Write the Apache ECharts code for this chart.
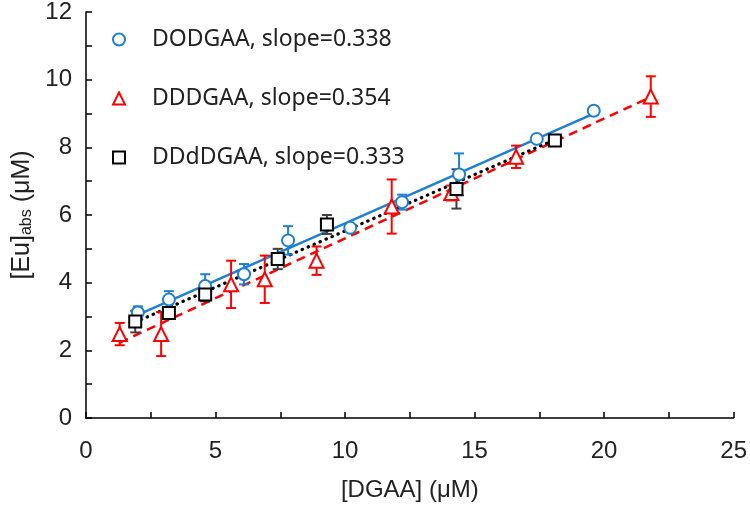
<!DOCTYPE html>
<html>
<head>
<meta charset="utf-8">
<script src="https://cdn.jsdelivr.net/npm/echarts@6/dist/echarts.min.js"></script>
<style>
  html, body { margin: 0; padding: 0; background: #fff; }
  #chart { width: 750px; height: 509px; }
</style>
</head>
<body>
<div id="chart"></div>
<script>
// DODGAA (blue circles)
const dodX = [2.0, 3.2, 4.6, 6.1, 7.8, 10.2, 12.2, 14.4, 17.4, 19.6];
const dodY = [3.12, 3.5, 3.9, 4.25, 5.25, 5.62, 6.38, 7.2, 8.25, 9.08];
const dodErr = [0.18, 0.25, 0.35, 0.3, 0.42, 0.08, 0.22, 0.62, 0.08, 0.08];

// DDDGAA (red triangles)
const dddX = [1.3, 2.9, 5.6, 6.9, 8.9, 11.8, 14.1, 16.6, 21.8];
const dddY = [2.48, 2.48, 3.95, 4.1, 4.65, 6.25, 6.65, 7.72, 9.5];
const dddErr = [0.33, 0.65, 0.7, 0.7, 0.42, 0.8, 0.22, 0.33, 0.6];

// DDdDGAA (black squares)
const dddGX = [1.9, 3.2, 4.6, 7.4, 9.3, 14.3, 18.1];
const dddGY = [2.85, 3.1, 3.65, 4.7, 5.72, 6.77, 8.2];
const dddGErr = [0.32, 0.15, 0.2, 0.3, 0.28, 0.58, 0.08];

// 线性拟合参数
const seriesNames = ['DODGAA, slope=0.338', 'DDDGAA, slope=0.354', 'DDdDGAA, slope=0.333'];
const fitSlopes = [0.338, 0.354, 0.333];
const fitIntercepts = [2.37, 1.77, 2.2];

const xTicks = [0, 5, 10, 15, 20, 25];
const yTicks = [0, 2, 4, 6, 8, 10, 12];

const BLUE = '#1f7fd2';
const RED = '#ff0000';
const BLACK = '#000000';
const TEXT = '#222';
const FONT = "'Liberation Sans Narrow', 'Liberation Sans', Arial, sans-serif";

function toPoints(xs, ys) {
  return xs.map((x, i) => [x, ys[i]]);
}

function toErr(xs, ys, es) {
  return xs.map((x, i) => [x, ys[i] - es[i], ys[i] + es[i]]);
}

function fitLine(xs, k) {
  const x0 = Math.min(...xs);
  const x1 = Math.max(...xs);
  return [[x0, fitIntercepts[k] + fitSlopes[k] * x0], [x1, fitIntercepts[k] + fitSlopes[k] * x1]];
}

// 误差棒
function renderErr(params, api) {
  const x = api.value(0);
  const top = api.coord([x, api.value(2)]);
  const bot = api.coord([x, api.value(1)]);
  const cap = 5;
  const style = { stroke: api.visual('color'), lineWidth: 2 };
  return {
    type: 'group',
    children: [
      { type: 'line', shape: { x1: top[0], y1: top[1], x2: bot[0], y2: bot[1] }, style: style },
      { type: 'line', shape: { x1: top[0] - cap, y1: top[1], x2: top[0] + cap, y2: top[1] }, style: style },
      { type: 'line', shape: { x1: bot[0] - cap, y1: bot[1], x2: bot[0] + cap, y2: bot[1] }, style: style }
    ]
  };
}

function errSeries(name, data, color) {
  return {
    name: name,
    type: 'custom',
    renderItem: renderErr,
    data: data,
    itemStyle: { color: color },
    encode: { x: 0, y: [1, 2] },
    z: 2,
    silent: true
  };
}

function lineSeries(name, data, color, type, width, cap) {
  return {
    name: name,
    type: 'line',
    data: data,
    symbol: 'none',
    lineStyle: { color: color, width: width, type: type, cap: cap || 'butt' },
    z: 1,
    silent: true
  };
}

function scatterSeries(name, data, symbol, size, color) {
  return {
    name: name,
    type: 'scatter',
    data: data,
    symbol: symbol,
    symbolSize: size,
    itemStyle: { color: color, borderWidth: 2, opacity: 1 },
    z: 3
  };
}

const chart = echarts.init(document.getElementById('chart'), null, { renderer: 'canvas' });

const axisCommon = {
  axisLine: { show: true, lineStyle: { color: BLACK, width: 1.5 } },
  axisTick: { show: true, inside: true, length: 6, lineStyle: { color: BLACK, width: 1.5 } },
  minorTick: { show: true, splitNumber: 2, length: 6, lineStyle: { color: BLACK, width: 1.5 } },
  splitLine: { show: false },
  axisLabel: { color: TEXT, fontSize: 24, fontFamily: FONT }
};

chart.setOption({
  backgroundColor: '#fff',
  animation: false,
  grid: { left: 86, right: 12, top: 12, bottom: 91, containLabel: false },
  legend: {
    data: [
      { name: seriesNames[0], icon: 'emptyCircle' },
      { name: seriesNames[1], icon: 'emptyTriangle' },
      { name: seriesNames[2], icon: 'emptyRect' }
    ],
    orient: 'vertical',
    left: 107,
    top: 23,
    itemWidth: 12,
    itemHeight: 12,
    itemGap: 36,
    selectedMode: false,
    itemStyle: { borderWidth: 2 },
    textStyle: { fontSize: 23, fontFamily: "'Noto Sans', sans-serif", color: TEXT, padding: [0, 0, 0, 22] }
  },
  xAxis: Object.assign({}, axisCommon, {
    type: 'value',
    min: xTicks[0],
    max: xTicks[xTicks.length - 1],
    interval: xTicks[1] - xTicks[0],
    name: '[DGAA] (μM)',
    nameLocation: 'middle',
    nameGap: 60,
    nameTextStyle: { fontSize: 24, fontFamily: FONT, color: TEXT },
    axisLabel: Object.assign({}, axisCommon.axisLabel, { margin: 21 })
  }),
  yAxis: Object.assign({}, axisCommon, {
    type: 'value',
    min: yTicks[0],
    max: yTicks[yTicks.length - 1],
    interval: yTicks[1] - yTicks[0],
    name: '[Eu]{s|abs} (μM)',
    nameLocation: 'middle',
    nameGap: 46,
    nameTextStyle: {
      fontSize: 25, fontFamily: FONT, color: TEXT,
      rich: { s: { fontSize: 16, fontFamily: FONT, color: TEXT, verticalAlign: 'bottom', padding: [8, 0, 0, 0] } }
    },
    axisLabel: Object.assign({}, axisCommon.axisLabel, { margin: 14 })
  }),
  series: [
    lineSeries('fit0', fitLine(dodX, 0), BLUE, 'solid', 2.5),
    lineSeries('fit1', fitLine(dddX, 1), RED, [9, 6], 2.5),
    lineSeries('fit2', fitLine(dddGX, 2), BLACK, [0.5, 6], 3.2, 'round'),
    errSeries('err0', toErr(dodX, dodY, dodErr), BLUE),
    errSeries('err1', toErr(dddX, dddY, dddErr), RED),
    errSeries('err2', toErr(dddGX, dddGY, dddGErr), '#404040'),
    scatterSeries(seriesNames[0], toPoints(dodX, dodY), 'emptyCircle', 12, BLUE),
    scatterSeries(seriesNames[1], toPoints(dddX, dddY), 'emptyTriangle', 14, RED),
    scatterSeries(seriesNames[2], toPoints(dddGX, dddGY), 'emptyRect', 12, BLACK)
  ]
});
</script>
</body>
</html>
